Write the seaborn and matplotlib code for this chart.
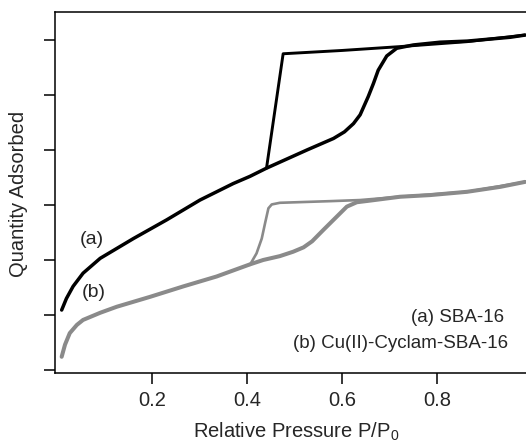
import pandas as pd
import matplotlib
matplotlib.use("Agg")
import matplotlib.pyplot as plt
import seaborn as sns

# ---- Datos ------------------------------------------------------------------
a_ads_p = [0.010, 0.020, 0.034, 0.055, 0.091, 0.126, 0.161, 0.196, 0.231, 0.266,
           0.301, 0.336, 0.371, 0.406, 0.441, 0.526, 0.582, 0.605, 0.624, 0.638,
           0.655, 0.666, 0.676, 0.694, 0.715, 0.750, 0.806, 0.863, 0.954, 0.985]
a_ads_q = [1.09, 1.30, 1.52, 1.76, 2.03, 2.21, 2.39, 2.56, 2.73, 2.91,
           3.09, 3.24, 3.39, 3.52, 3.67, 4.00, 4.21, 4.33, 4.48, 4.64,
           4.97, 5.21, 5.45, 5.71, 5.85, 5.91, 5.96, 5.98, 6.05, 6.09]
a_des_p = [0.985, 0.954, 0.863, 0.722, 0.600, 0.476, 0.441]
a_des_q = [6.09, 6.06, 5.97, 5.88, 5.81, 5.75, 3.67]

b_ads_p = [0.010, 0.017, 0.027, 0.042, 0.055, 0.091, 0.126, 0.196, 0.266, 0.336,
           0.406, 0.434, 0.469, 0.497, 0.519, 0.537, 0.561, 0.589, 0.610, 0.631,
           0.659, 0.722, 0.785, 0.863, 0.933, 0.985]
b_ads_q = [0.24, 0.46, 0.67, 0.82, 0.91, 1.04, 1.15, 1.33, 1.52, 1.70,
           1.92, 2.00, 2.07, 2.15, 2.23, 2.34, 2.55, 2.79, 2.97, 3.05,
           3.08, 3.15, 3.18, 3.24, 3.33, 3.42]
b_des_p = [0.985, 0.863, 0.722, 0.638, 0.575, 0.469, 0.452, 0.445, 0.438, 0.431,
           0.420, 0.406]
b_des_q = [3.42, 3.24, 3.15, 3.09, 3.07, 3.04, 3.01, 2.94, 2.67, 2.39,
           2.12, 1.91]

x_ticks = [0.2, 0.4, 0.6, 0.8]
y_ticks = [0, 1, 2, 3, 4, 5, 6]

sns.set_style("white")
plt.rcParams["font.family"] = ["Liberation Sans", "DejaVu Sans"]
plt.rcParams["mathtext.fontset"] = "custom"
plt.rcParams["mathtext.rm"] = "Liberation Sans"

fig = plt.figure(figsize=(5.26, 4.43), dpi=100)
ax = fig.add_axes([0.1046, 0.158, 0.8954, 0.815])

ramas = [
    (a_ads_p, a_ads_q, "black", 2.5),
    (a_des_p, a_des_q, "black", 2.1),
    (b_ads_p, b_ads_q, "#8a8a8a", 2.9),
    (b_des_p, b_des_q, "#8a8a8a", 1.9),
]
for p, q, color, lw in ramas:
    df = pd.DataFrame({"p": p, "q": q})
    sns.lineplot(data=df, x="p", y="q", sort=False, estimator=None,
                 color=color, linewidth=lw, ax=ax)

ax.set_xlim(-0.004, 0.987)
ax.set_ylim(-0.055, 6.51)
ax.set_xticks(x_ticks)
ax.set_xticklabels([f"{t:.1f}" for t in x_ticks])
ax.set_yticks(y_ticks)
ax.set_yticklabels([])
ax.tick_params(axis="both", direction="out", length=8, width=1.1,
               color="black", labelsize=14.5, pad=5, left=True, bottom=True)
for lado in ["left", "top", "bottom"]:
    ax.spines[lado].set_color("black")
    ax.spines[lado].set_linewidth(1.1)
ax.spines["right"].set_visible(False)

ax.set_xlabel(r"Relative Pressure P/P$_\mathregular{0}$", fontsize=14.5)
ax.set_ylabel("Quantity Adsorbed", fontsize=14.5)
ax.xaxis.set_label_coords(0.512, -0.133)
ax.yaxis.set_label_coords(-0.057, 0.496)

ax.text(0.074, 2.38, "(a)", fontsize=14, ha="center", va="center")
ax.text(0.077, 1.40, "(b)", fontsize=14, ha="center", va="center")
ax.text(0.940, 0.96, "(a) SBA-16", fontsize=13.5, ha="right", va="center")
ax.text(0.950, 0.49, "(b) Cu(II)-Cyclam-SBA-16", fontsize=13.5, ha="right", va="center")

fig.savefig("out.png", dpi=100)
